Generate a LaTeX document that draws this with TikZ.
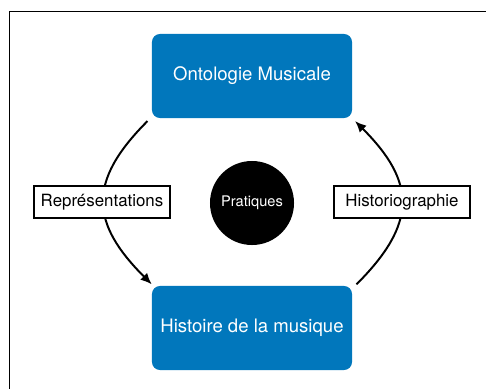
\documentclass[tikz,border=0pt]{standalone}
\usepackage{fontspec}
\setmainfont{TeX Gyre Heros}
\usepackage{tikz}
\usetikzlibrary{arrows.meta}
\definecolor{boxblue}{RGB}{1,119,188}
\tikzset{arrow/.style={->, >={Latex[length=8pt, width=7pt]}, line width=1.4pt}}
\tikzset{field/.style={fill=boxblue, text=white, rounded corners=0.2cm, minimum width=5cm, minimum height=2.1cm, font=\fontsize{13.2}{15}\selectfont}}
\tikzset{label-box/.style={draw, fill=white, line width=1.4pt, minimum width=3.4cm, minimum height=0.82cm, font=\fontsize{12}{14}\selectfont}}

\begin{document}
\begin{tikzpicture}[x=0.025cm, y=-0.025cm]
      \clip (0, 0) rectangle (486, 388);
      \draw[line width=1.4pt] (9.5, 11.5) rectangle (520, 420);

      \node[field] (onto) at (252, 76) {Ontologie Musicale};
      \node[field] (hist) at (252, 328) {Histoire de la musique};
      \node[circle, fill=black, text=white, minimum size=2.1cm, inner sep=0pt,
            font=\fontsize{10.4}{12}\selectfont] (prat) at (252, 203) {Pratiques};

      \draw[arrow] ([xshift=-3pt, yshift=-2pt]onto.south west)
            to[out=225, in=135, looseness=1.35] ([yshift=1pt]hist.north west);
      \draw[arrow] ([xshift=3pt, yshift=1pt]hist.north east)
            to[out=45, in=-45, looseness=1.35] ([xshift=2pt, yshift=-2pt]onto.south east);

      \node[label-box] (repr) at (102, 202) {Représentations};
      \node[label-box] (hgr) at (402, 202) {Historiographie};
    \end{tikzpicture}
\end{document}
